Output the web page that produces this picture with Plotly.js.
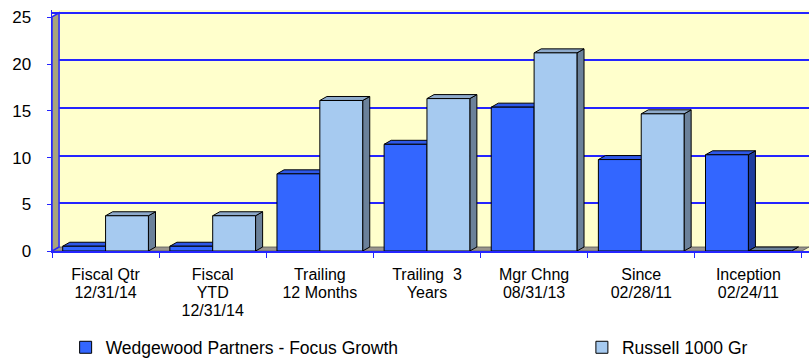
<!DOCTYPE html>
<html>
<head>
<meta charset="utf-8">
<script src="https://cdn.plot.ly/plotly-3.0.1.min.js"></script>
<style>
html,body{margin:0;padding:0;background:#fff;}
#chart{width:809px;height:359px;}
</style>
</head>
<body>
<div id="chart"></div>
<script>
// ---- data ----
var categories = ["Fiscal Qtr 12/31/14", "Fiscal YTD 12/31/14", "Trailing 12 Months", "Trailing 3 Years", "Mgr Chng 08/31/13", "Since 02/28/11", "Inception 02/24/11"];
// tick label lines (as wrapped in the chart)
var labelLine1 = ["Fiscal Qtr", "Fiscal", "Trailing", "Trailing\u00a0 3", "Mgr Chng", "Since", "Inception"];
var labelLine2 = ["12/31/14", "YTD", "12 Months", "Years", "08/31/13", "02/28/11", "02/24/11"];
var labelLine3 = ["", "12/31/14", "", "", "", "", ""];
var seriesNames = ["Wedgewood Partners - Focus Growth", "Russell 1000 Gr"];
var wedgewood = [0.5, 0.5, 8.1, 11.2, 15.1, 9.6, 10.1];
var russell = [3.7, 3.7, 15.8, 16.0, 20.8, 14.4, 0];
var yTicks = [0, 5, 10, 15, 20, 25];

// ---- styling ----
var frontColors = ["#3366FF", "#A6CAF0"];
var topColors = ["#2E58E8", "#8EAACB"];
var sideColors = ["#1F3C9E", "#6B819A"];
var FONT = "Arial, 'Liberation Sans', sans-serif";
var BLUE = "#2424ff";
var nCat = categories.length;
var xIdx = categories.map(function (c, i) { return i; });
var nulls = xIdx.map(function () { return null; });

// depth of the pseudo-3D effect (in axis units)
var DX = 0.066, DY = 0.42;
var barW = 0.4; // each bar width in category units (bargap 0.2, 2 bars)
var Y_TOP = 25.3;     // back-wall scale
var Y_FRONT = 25.8;   // front-edge scale (labels)

var shapes = [];
// floor
shapes.push({
  type: "path", xref: "x", yref: "y", layer: "between",
  path: "M-0.5,0 L" + (nCat - 0.5) + ",0 L" + (nCat - 0.5 + DX) + "," + DY + " L" + (-0.5 + DX) + "," + DY + " Z",
  fillcolor: "#9A968E", line: {color: "#555", width: 0.8}
});
// left wall
shapes.push({
  type: "path", xref: "x", yref: "y", layer: "between",
  path: "M-0.5,0 L" + (-0.5 + DX) + "," + DY + " L" + (-0.5 + DX) + ",25 L-0.5," + (25 - DY) + " Z",
  fillcolor: "#A8A47C", line: {color: BLUE, width: 1.5}
});

function addFaces(vals, s) {
  vals.forEach(function (v, i) {
    var x0 = i - barW + s * barW;
    var x1 = x0 + barW;
    shapes.push({
      type: "path", xref: "x", yref: "y", layer: "between",
      path: "M" + x1 + ",0 L" + (x1 + DX) + "," + DY + " L" + (x1 + DX) + "," + (v + DY) + " L" + x1 + "," + v + " Z",
      fillcolor: sideColors[s], line: {color: "#000", width: 1}
    });
    shapes.push({
      type: "path", xref: "x", yref: "y", layer: "between",
      path: "M" + x0 + "," + v + " L" + x1 + "," + v + " L" + (x1 + DX) + "," + (v + DY) + " L" + (x0 + DX) + "," + (v + DY) + " Z",
      fillcolor: v === 0 ? sideColors[s] : topColors[s], line: {color: "#000", width: 1}
    });
  });
}
addFaces(wedgewood, 0);
addFaces(russell, 1);

var traces = [
  {type: "bar", x: xIdx, y: wedgewood, name: seriesNames[0], legend: "legend",
   marker: {color: frontColors[0], line: {color: "#000", width: 1}}},
  {type: "bar", x: xIdx, y: russell, name: seriesNames[1], legend: "legend2",
   marker: {color: frontColors[1], line: {color: "#000", width: 1}}},
  // invisible helpers so the extra axes (front value scale, label lines 2 and 3) are drawn
  {type: "scatter", mode: "none", x: xIdx, y: nulls, yaxis: "y2", showlegend: false, hoverinfo: "skip"},
  {type: "scatter", mode: "none", x: xIdx, y: nulls, xaxis: "x2", showlegend: false, hoverinfo: "skip"},
  {type: "scatter", mode: "none", x: xIdx, y: nulls, xaxis: "x3", showlegend: false, hoverinfo: "skip"}
];

var XRANGE = [-0.5, nCat - 0.5 + DX];
var LABEL_SIZE = 16;
function labelAxis(lines, standoff, extra) {
  var a = {
    type: "linear", range: XRANGE,
    tickmode: "array", tickvals: xIdx, ticktext: lines,
    ticks: "", showgrid: false, zeroline: false, showline: false,
    tickfont: {family: FONT, size: LABEL_SIZE, color: "#000"},
    ticklabelstandoff: standoff,
    minor: {tick0: -0.5, dtick: 1, ticks: "outside", ticklen: 5, tickcolor: BLUE, tickwidth: 1, showgrid: false},
    fixedrange: true
  };
  for (var k in extra) a[k] = extra[k];
  return a;
}

var layout = {
  width: 809, height: 359,
  margin: {l: 52, r: 0, t: 10, b: 108, pad: 0, autoexpand: false},
  paper_bgcolor: "#FFFFFF",
  plot_bgcolor: "#FFFFCC",
  font: {family: FONT, size: 17, color: "#000"},
  barmode: "group", bargap: 0.2, bargroupgap: 0,
  showlegend: true,
  xaxis: labelAxis(labelLine1, 8, {showline: true, linecolor: BLUE, linewidth: 1.5}),
  xaxis2: labelAxis(labelLine2, 30, {overlaying: "x", matches: "x", anchor: "y"}),
  xaxis3: labelAxis(labelLine3, 48, {overlaying: "x", matches: "x", anchor: "y"}),
  yaxis: {
    range: [0, Y_TOP], tickmode: "array", tickvals: yTicks,
    ticks: "", showticklabels: false,
    showgrid: true, gridcolor: BLUE, gridwidth: 2,
    zeroline: false, showline: false,
    fixedrange: true
  },
  yaxis2: {
    overlaying: "y", side: "left",
    range: [0, Y_FRONT], tickmode: "array", tickvals: yTicks,
    ticks: "outside", ticklen: 4, tickcolor: BLUE,
    showgrid: false, zeroline: false,
    showline: true, linecolor: BLUE, linewidth: 1.5,
    tickfont: {family: FONT, size: 17, color: "#000"},
    ticklabelstandoff: 12,
    fixedrange: true
  },
  legend: {
    x: 0.018, y: -0.40, xanchor: "left", yanchor: "middle",
    orientation: "h", bgcolor: "rgba(0,0,0,0)",
    font: {family: FONT, size: 17.5, color: "#000"}
  },
  legend2: {
    x: 0.70, y: -0.40, xanchor: "left", yanchor: "middle",
    orientation: "h", bgcolor: "rgba(0,0,0,0)",
    font: {family: FONT, size: 17.5, color: "#000"}
  },
  shapes: shapes
};

Plotly.newPlot("chart", traces, layout, {staticPlot: true, displayModeBar: false});
</script>
</body>
</html>
